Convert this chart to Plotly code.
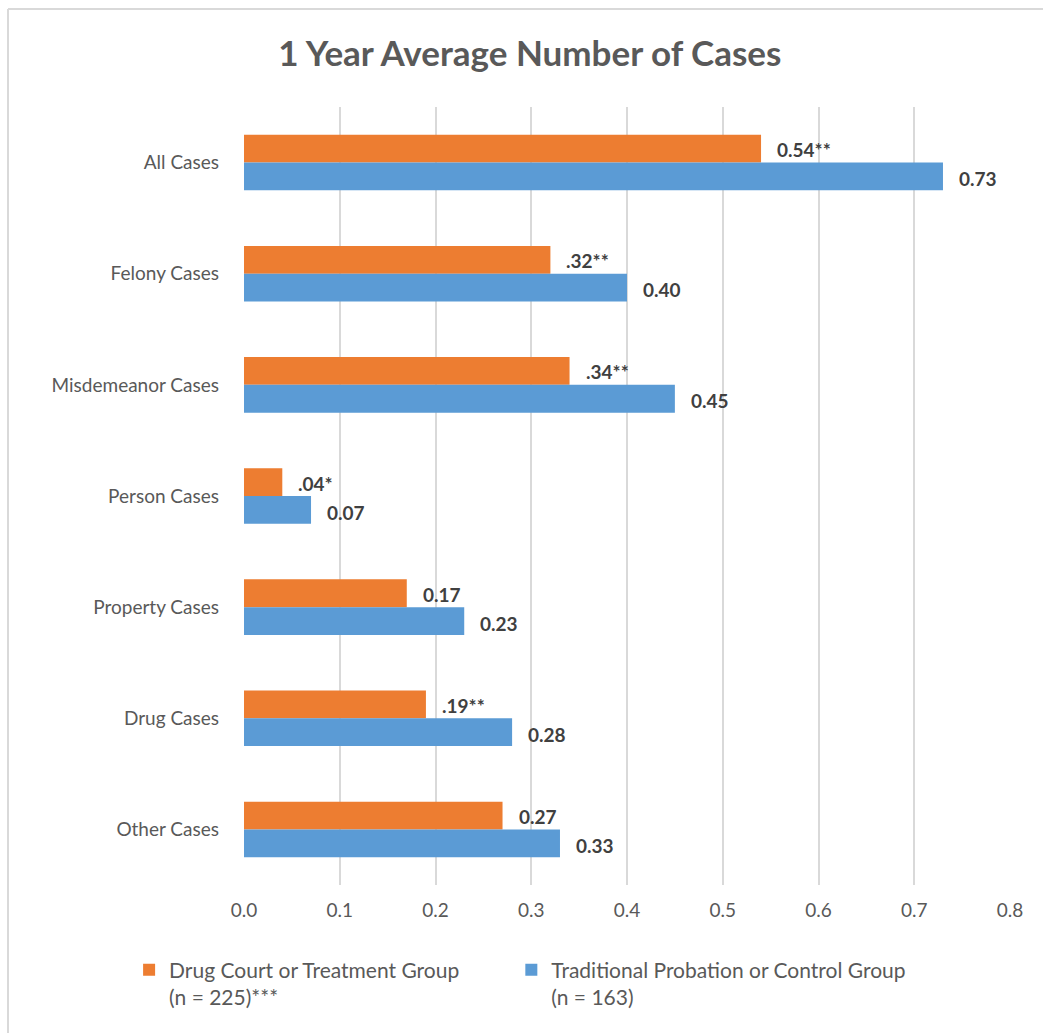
import plotly.graph_objects as go

categories = ["All Cases", "Felony Cases", "Misdemeanor Cases", "Person Cases",
              "Property Cases", "Drug Cases", "Other Cases"]
treatment_values = [0.54, 0.32, 0.34, 0.04, 0.17, 0.19, 0.27]
treatment_labels = ["0.54**", ".32**", ".34**", ".04*", "0.17", ".19**", "0.27"]
control_values = [0.73, 0.40, 0.45, 0.07, 0.23, 0.28, 0.33]
control_labels = ["0.73", "0.40", "0.45", "0.07", "0.23", "0.28", "0.33"]
x_ticks = [0.0, 0.1, 0.2, 0.3, 0.4, 0.5, 0.6, 0.7, 0.8]

ORANGE = "#ED7D31"
BLUE = "#5B9BD5"
FONT = "Lato, Open Sans, sans-serif"

fig = go.Figure()
fig.add_trace(go.Bar(
    y=categories, x=treatment_values, orientation="h",
    name="Drug Court or Treatment Group<br>(n = 225)***",
    marker=dict(color=ORANGE, line=dict(width=0)),
    legend="legend", showlegend=True,
))
fig.add_trace(go.Bar(
    y=categories, x=control_values, orientation="h",
    name="Traditional Probation or Control Group<br>(n = 163)",
    marker=dict(color=BLUE, line=dict(width=0)),
    legend="legend2", showlegend=True,
))

annotations = []
for i, cat in enumerate(categories):
    for vals, labs, yshift in ((treatment_values, treatment_labels, 13),
                               (control_values, control_labels, -16)):
        annotations.append(dict(
            x=vals[i], y=cat, xref="x", yref="y", text="<b>" + labs[i] + "</b>",
            showarrow=False, xanchor="left", yanchor="middle", xshift=14, yshift=yshift,
            font=dict(family=FONT, size=19, color="#404040"),
        ))

legend_common = dict(orientation="h", yanchor="top", y=-0.083, valign="top",
                     xanchor="left", itemwidth=30, bgcolor="rgba(0,0,0,0)",
                     visible=True,
                     font=dict(family=FONT, size=21, color="#595959"))

fig.update_layout(
    width=1043, height=1033,
    margin=dict(l=244, r=33, t=107, b=148),
    paper_bgcolor="white", plot_bgcolor="white",
    showlegend=True,
    barmode="group", bargap=0.5, bargroupgap=0,
    font=dict(family=FONT, size=19, color="#595959"),
    title=dict(text="<b>1 Year Average Number of Cases</b>", x=0.508, xanchor="center",
               y=0.948, yanchor="middle",
               font=dict(family=FONT, size=35, color="#595959")),
    xaxis=dict(range=[0, 0.8], tickvals=x_ticks, ticktext=[f"{v:.1f}" for v in x_ticks],
               showgrid=True, gridcolor="#D9D9D9", gridwidth=1.5, zeroline=False,
               showline=False, ticks="", ticklabelstandoff=12,
               tickfont=dict(family=FONT, size=19, color="#595959")),
    yaxis=dict(autorange="reversed", showgrid=False, showline=False, ticks="",
               ticklabelstandoff=24,
               tickfont=dict(family=FONT, size=19, color="#595959")),
    legend=dict(x=-0.15, **legend_common),
    legend2=dict(x=0.349, **legend_common),
    annotations=annotations,
    shapes=[
        dict(type="line", xref="paper", yref="paper", x0=(8 - 244) / 766, x1=(1043 - 244) / 766,
             y0=(1033 - 148 - 9) / 778, y1=(1033 - 148 - 9) / 778,
             line=dict(color="#D9D9D9", width=2)),
        dict(type="line", xref="paper", yref="paper", x0=(8 - 244) / 766, x1=(8 - 244) / 766,
             y0=(1033 - 148 - 1033) / 778, y1=(1033 - 148 - 9) / 778,
             line=dict(color="#D9D9D9", width=2)),
    ],
)

fig.write_html("out.html")
